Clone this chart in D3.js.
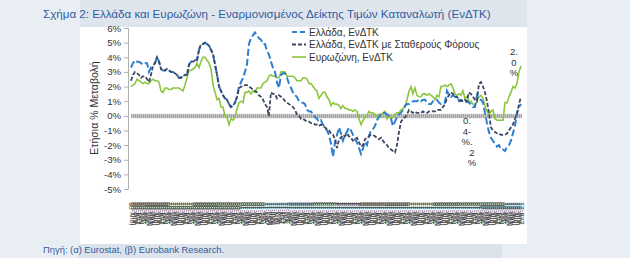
<!DOCTYPE html>
<html>
<head>
<meta charset="utf-8">
<script src="https://cdn.jsdelivr.net/npm/d3@7"></script>
<style>
  body { margin: 0; background: #e9eef5; }
  svg { display: block; font-family: "Liberation Sans", Arial, sans-serif; }
</style>
</head>
<body>
<div class="chart"></div>
<script>
// monthly, Jun 2005 - Sep 2021
const greeceHicp = [
  3.3, 3.6, 3.8, 3.7, 3.7, 3.6, 3.5,
  3.6, 3.6, 3.0, 3.3, 3.4, 3.6, 4.0, 3.7, 3.2, 3.1, 3.1, 3.2,
  3.1, 3.0, 3.0, 2.9, 2.8, 2.6, 2.6, 2.7, 2.8, 2.8, 3.5, 3.7,
  3.7, 3.8, 3.8, 4.5, 4.9, 4.9, 5.0, 4.9, 4.8, 4.5, 4.2, 3.5,
  2.8, 2.0, 1.7, 1.4, 1.2, 1.1, 0.8, 0.6, 0.7, 0.9, 1.3, 2.0,
  2.3, 2.6, 3.0, 3.5, 4.9, 5.3, 5.5, 5.7, 5.5, 5.3, 5.2, 4.9,
  4.9, 4.4, 4.2, 3.7, 3.3, 3.0, 2.3, 1.9, 2.8, 2.9, 2.9, 2.6,
  2.2, 1.9, 1.6, 1.4, 1.3, 1.0, 0.9, 0.9, 0.8, 0.4, 0.3, 0.3,
  0.1, -0.1, -0.2, -0.4, -0.3, -0.6, -0.8, -1.0, -1.3, -1.9, -2.8, -1.8,
  -1.3, -0.8, -1.2, -1.7, -1.3, -1.1, -0.8, -1.0, -1.3, -1.6, -1.8, -2.2,
  -2.6, -2.2, -1.8, -2.0, -1.4, -1.0, -0.9, -0.7, -0.3, -0.1, 0.1, 0.2,
  0.2, 0.1, 0.0, -0.2, -0.7, -0.4, -0.1, 0.1, 0.2, 0.4, 0.7, 0.8,
  0.8, 0.9, 1.0, 1.0, 1.0, 1.1, 1.0, 1.1, 1.1, 0.9, 0.8, 0.8,
  1.0, 1.1, 1.1, 0.9, 0.8, 0.9, 0.9, 1.7, 1.4, 1.3, 1.4, 1.3,
  1.3, 1.0, 1.1, 1.0, 0.9, 1.0, 0.9, 0.8, 0.6, 0.6, 1.4, 1.1,
  1.1, 0.9, 0.2, -0.5, -1.1, -1.5, -1.7, -1.9, -2.1, -2.0, -2.3, -2.3,
  -2.4, -2.1, -2.0, -1.7, -1.2, -0.7, 0.2, 0.6, 0.8
];
const greeceConstTax = [
  2.4, 2.8, 3.0, 2.9, 2.8, 2.6, 2.7,
  2.7, 2.5, 2.3, 2.8, 3.4, 3.6, 4.0, 3.7, 3.2, 3.1, 3.1, 3.2,
  3.1, 3.0, 3.0, 2.9, 2.8, 2.6, 2.6, 2.7, 2.8, 2.8, 3.5, 3.7,
  3.7, 3.8, 3.8, 4.5, 4.9, 4.9, 5.0, 4.9, 4.8, 4.5, 4.2, 3.5,
  2.8, 2.0, 1.7, 1.4, 1.2, 1.1, 0.8, 0.6, 0.7, 0.9, 1.3, 1.9,
  2.0, 2.0, 2.1, 2.1, 2.0, 1.9, 1.8, 1.7, 1.6, 1.4, 1.3, 1.1,
  0.8, 0.6, 0.0, 1.6, 1.5, 1.5, 1.2, 1.4, 1.3, 1.2, 1.0, 0.9,
  0.8, 0.7, 0.6, 0.4, 0.1, 0.0, -0.2, -0.2, -0.3, -0.4, -0.4, -0.5,
  -0.5, -0.6, -0.6, -0.7, -0.6, -0.7, -0.8, -0.9, -1.0, -1.2, -1.3, -1.6,
  -2.2, -1.6, -1.5, -1.3, -1.4, -1.2, -1.4, -1.5, -1.7, -1.6, -1.5, -1.8,
  -2.1, -2.0, -1.6, -1.5, -1.4, -1.3, -1.3, -1.4, -1.5, -1.6, -1.5, -1.7,
  -1.9, -2.0, -2.2, -2.3, -2.4, -2.5, -2.0, -1.1, -0.4, -0.2, -0.1, 0.1,
  0.4, 0.3, 0.2, 0.3, 0.2, 0.2, 0.2, 0.3, 0.2, 0.2, 0.3, 0.3,
  0.3, 0.3, 0.4, 0.4, 0.4, 0.6, 0.8, 1.2, 1.4, 1.6, 1.5, 1.3,
  1.3, 1.1, 1.0, 1.0, 1.1, 1.0, 1.6, 1.5, 1.3, 1.1, 1.0, 2.2,
  2.3, 2.0, 1.6, 1.0, 0.2, -0.8, -1.0, -1.1, -1.2, -1.2, -1.3, -1.3,
  -1.3, -1.2, -1.0, -0.8, -0.6, -0.2, 0.1, 0.8, 1.3
];
const eurozoneHicp = [
  2.0, 2.1, 2.2, 2.5, 2.4, 2.3, 2.2,
  2.3, 2.2, 2.2, 2.4, 2.5, 2.4, 2.4, 2.3, 1.7, 1.6, 1.9, 1.9,
  1.8, 1.8, 1.9, 1.9, 1.9, 1.9, 1.8, 1.7, 2.1, 2.6, 3.1, 3.1,
  3.2, 3.3, 3.6, 3.3, 3.7, 4.0, 4.0, 3.8, 3.6, 3.2, 2.1, 1.6,
  1.1, 1.2, 0.6, 0.6, 0.0, -0.1, -0.6, -0.2, -0.3, -0.1, 0.5, 0.9,
  1.0, 0.9, 1.6, 1.6, 1.7, 1.5, 1.7, 1.6, 1.9, 1.9, 1.9, 2.2,
  2.3, 2.4, 2.7, 2.8, 2.7, 2.7, 2.6, 2.6, 3.0, 3.0, 3.0, 2.7,
  2.7, 2.7, 2.7, 2.6, 2.4, 2.4, 2.4, 2.6, 2.6, 2.5, 2.2, 2.2,
  2.0, 1.8, 1.7, 1.2, 1.4, 1.6, 1.6, 1.3, 1.1, 0.7, 0.9, 0.8,
  0.8, 0.7, 0.5, 0.7, 0.5, 0.5, 0.4, 0.4, 0.3, 0.4, 0.3, -0.2,
  -0.6, -0.3, -0.1, 0.0, 0.3, 0.2, 0.2, 0.1, -0.1, 0.1, 0.1, 0.2,
  0.3, -0.2, 0.0, -0.2, -0.1, 0.1, 0.2, 0.2, 0.4, 0.5, 0.6, 1.1,
  1.7, 2.0, 1.5, 1.9, 1.4, 1.3, 1.3, 1.5, 1.5, 1.4, 1.5, 1.4,
  1.3, 1.1, 1.4, 1.3, 2.0, 2.0, 2.1, 2.0, 2.1, 2.2, 1.9, 1.5,
  1.4, 1.5, 1.4, 1.7, 1.2, 1.3, 1.0, 1.0, 0.8, 0.7, 1.0, 1.3,
  1.4, 1.2, 0.7, 0.3, 0.1, 0.3, 0.4, -0.2, -0.3, -0.3, -0.3, -0.3,
  0.9, 0.9, 1.3, 1.6, 2.0, 1.9, 2.2, 3.0, 3.4
];
const seriesNames = ["Ελλάδα, ΕνΔΤΚ", "Ελλάδα, ΕνΔΤΚ με Σταθερούς Φόρους", "Ευρωζώνη, ΕνΔΤΚ"];
const monthNames = ["Ιαν", "Φεβ", "Μαρ", "Απρ", "Μαϊ", "Ιουν", "Ιουλ", "Αυγ", "Σεπ", "Οκτ", "Νοε", "Δεκ"];
const yTicks = [6, 5, 4, 3, 2, 1, 0, -1, -2, -3, -4, -5];
// wrapped data labels as Excel left them
const endLabelLines = ["2.", "0", "%"];
const midLabelLines = ["0.", "4-", "%.", "2", "%"];

const width = 630, height = 258;
const months = d3.timeMonth.range(new Date(2005, 5, 1), new Date(2021, 9, 1));

const x = d3.scaleTime()
    .domain([months[0], months[months.length - 1]])
    .range([131, 521]);

const y = d3.scaleLinear()
    .domain([-5, 6])
    .range([189, 28]);

const svg = d3.select(".chart").append("svg")
    .attr("width", width)
    .attr("height", height);

// page panels
svg.append("rect").attr("x", 80).attr("y", 0).attr("width", 447).attr("height", 27).attr("fill", "#dfe5ed");
svg.append("rect").attr("x", 80).attr("y", 27).attr("width", 447).attr("height", 217).attr("fill", "#fff");
svg.append("rect").attr("x", 78).attr("y", 244).attr("width", 424).attr("height", 14).attr("fill", "#dde3ea");

svg.append("text")
    .attr("x", 43).attr("y", 18)
    .attr("font-size", 11.6)
    .attr("fill", "#2f5d9e")
    .text("Σχήμα 2: Ελλάδα και Ευρωζώνη - Εναρμονισμένος Δείκτης Τιμών Καταναλωτή (ΕνΔΤΚ)");

svg.append("text")
    .attr("x", 43).attr("y", 253)
    .attr("font-size", 9.4)
    .attr("fill", "#2f5d9e")
    .text("Πηγή: (α) Eurostat, (β) Eurobank Research.");

// y axis
const yAxis = svg.append("g")
    .attr("transform", "translate(128,0)")
    .call(d3.axisLeft(y).tickValues(yTicks).tickSize(4).tickPadding(3).tickFormat(d => d + "%"));
yAxis.select(".domain").attr("stroke", "#b0b0b0");
yAxis.selectAll(".tick line").attr("stroke", "#b0b0b0");
yAxis.selectAll("text").attr("font-size", 9.6).attr("fill", "#333").attr("font-family", "Liberation Sans, Arial");

svg.append("text")
    .attr("transform", "translate(98,108) rotate(-90)")
    .attr("text-anchor", "middle")
    .attr("font-size", 10.5)
    .attr("fill", "#333")
    .text("Ετήσια % Μεταβολή");

// zero axis with a tick per month
const zeroAxis = svg.append("g")
    .attr("transform", "translate(0," + (y(0) - 2) + ")")
    .call(d3.axisBottom(x).tickValues(months).tickSize(4).tickSizeOuter(0).tickFormat(""));
zeroAxis.select(".domain").attr("stroke", "#c4c4c4").attr("stroke-width", 4).attr("transform", "translate(0,2)");
zeroAxis.selectAll(".tick line").attr("stroke", "#9a9a9a").attr("stroke-width", 0.8);

// crowded month labels at the bottom
const labelAxis = svg.append("g")
    .attr("transform", "translate(0,202)")
    .call(d3.axisBottom(x).tickValues(months).tickSize(0).tickPadding(0)
      .tickFormat(d => monthNames[d.getMonth()] + "-" + d3.timeFormat("%y")(d)));
labelAxis.select(".domain").remove();
labelAxis.selectAll("text")
    .attr("font-size", 7)
    .attr("fill", "#444")
    .attr("font-family", "Liberation Sans, Arial")
    .attr("text-anchor", "end")
    .attr("x", 0).attr("y", 0)
    .attr("dy", "0.32em")
    .attr("transform", "rotate(-90)");

const line = d3.line()
    .x((d, i) => x(months[i]))
    .y(d => y(d));

svg.append("path")
    .attr("d", line(eurozoneHicp))
    .attr("fill", "none")
    .attr("stroke", "#8cc63f")
    .attr("stroke-width", 1.6);

svg.append("path")
    .attr("d", line(greeceHicp))
    .attr("fill", "none")
    .attr("stroke", "#2f7fd0")
    .attr("stroke-width", 2)
    .attr("stroke-dasharray", "7,3");

svg.append("path")
    .attr("d", line(greeceConstTax))
    .attr("fill", "none")
    .attr("stroke", "#3d4760")
    .attr("stroke-width", 1.8)
    .attr("stroke-dasharray", "4,2");

// legend
const legendStyles = [
  {stroke: "#2f7fd0", dash: "5,3", w: 2},
  {stroke: "#3d4760", dash: "4,2", w: 1.8},
  {stroke: "#8cc63f", dash: null, w: 1.6}
];
const legend = svg.append("g").selectAll("g")
    .data(seriesNames)
  .enter().append("g")
    .attr("transform", (d, i) => "translate(292," + (32 + i * 12.5) + ")");
legend.append("line")
    .attr("x1", 0).attr("x2", 14)
    .attr("stroke", (d, i) => legendStyles[i].stroke)
    .attr("stroke-width", (d, i) => legendStyles[i].w)
    .attr("stroke-dasharray", (d, i) => legendStyles[i].dash);
legend.append("text")
    .attr("x", 17).attr("dy", "0.35em")
    .attr("font-size", 10)
    .attr("fill", "#333")
    .text(d => d);

// data labels
svg.append("g").selectAll("text")
    .data(endLabelLines)
  .enter().append("text")
    .attr("x", 514).attr("y", (d, i) => 55 + i * 10.5)
    .attr("text-anchor", "middle")
    .attr("font-size", 9.5)
    .attr("fill", "#333")
    .text(d => d);

svg.append("g").selectAll("text")
    .data(midLabelLines)
  .enter().append("text")
    .attr("x", (d, i) => i < 3 ? 467 : 472).attr("y", (d, i) => 124 + i * 10.5)
    .attr("text-anchor", "middle")
    .attr("font-size", 9.5)
    .attr("fill", "#333")
    .text(d => d);
</script>
</body>
</html>
